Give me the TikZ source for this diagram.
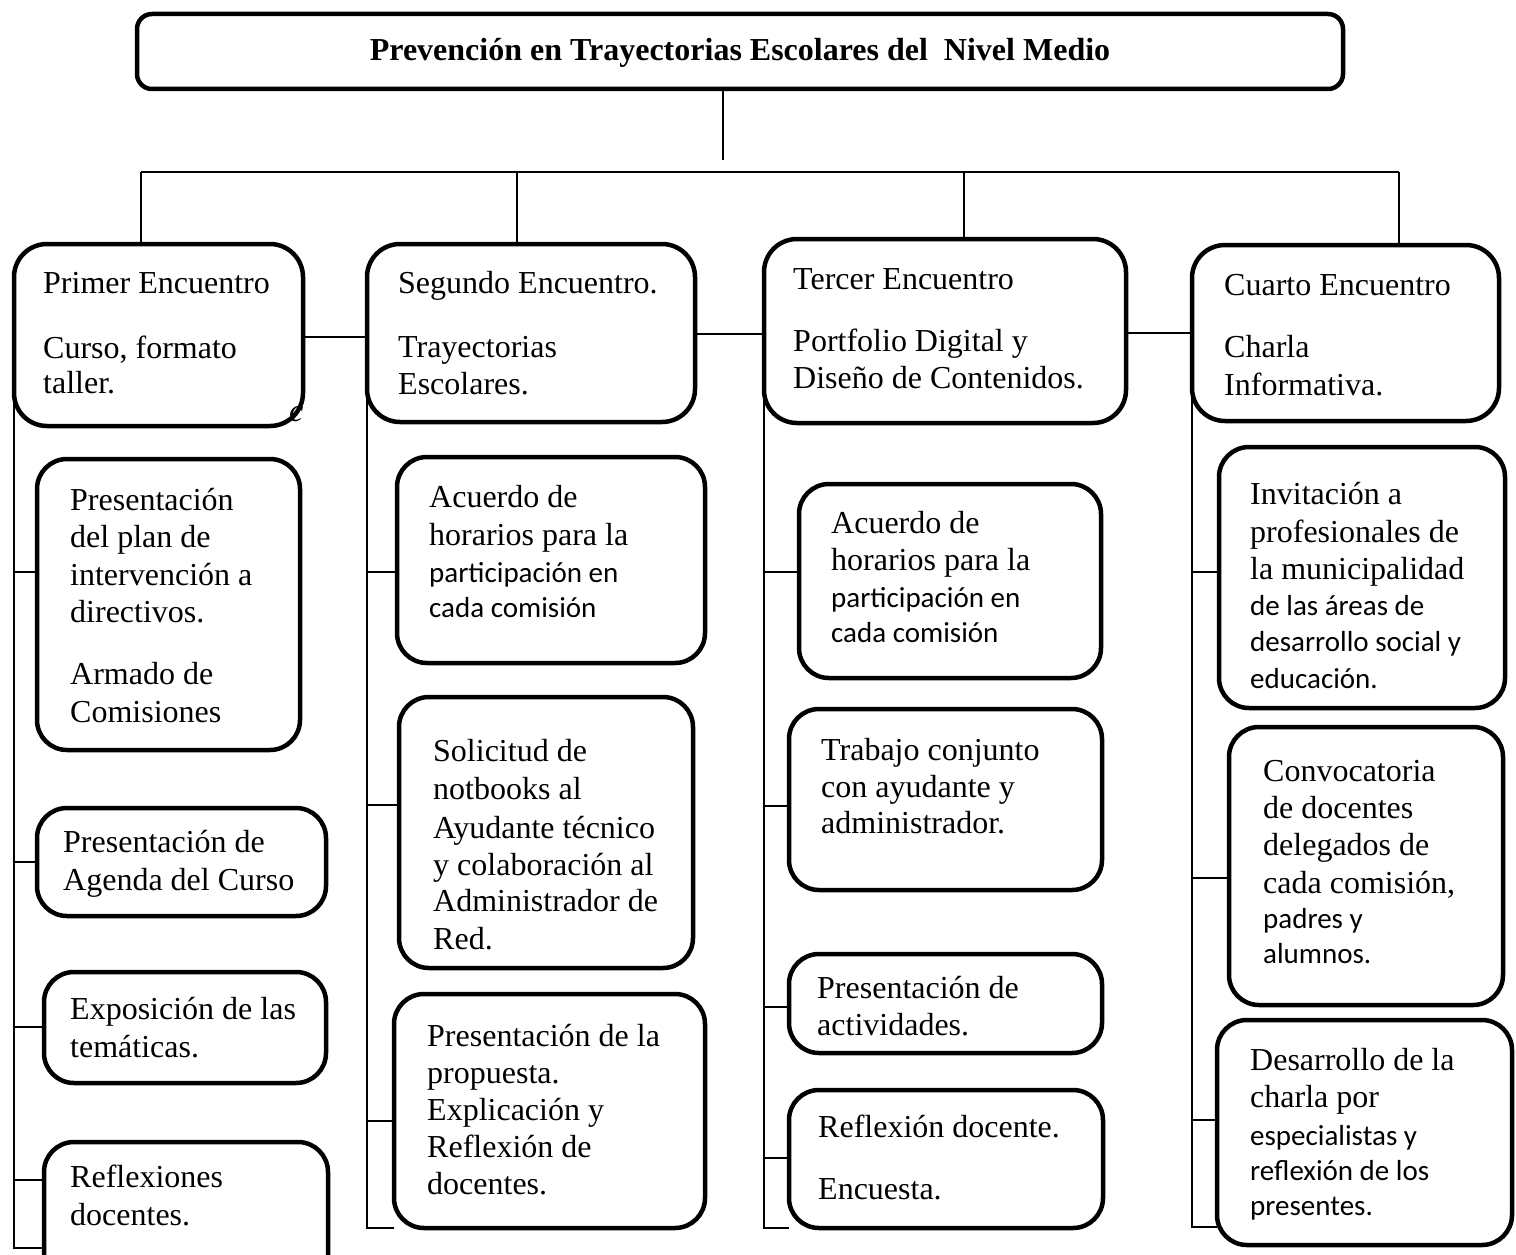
\documentclass[tikz,border=0pt]{standalone}
\usepackage{fontspec}
\setmainfont{Liberation Serif}
\newfontfamily\calfont{Carlito}
\tikzset{
  rbox/.style={draw, line width=4.5pt, rounded corners=30pt, inner sep=0pt, outer sep=0pt},
  hbox/.style={rbox, rounded corners=33pt},
  tbox/.style={rbox, rounded corners=15pt},
  conn/.style={draw, line width=1.8pt},
  tl/.style={anchor=base west, inner sep=0pt, font=\fontsize{32}{37}\selectfont},
  ts/.style={anchor=base west, inner sep=0pt, font=\calfont\fontsize{29}{35}\selectfont},
}
\newcommand\mkbox[6]{\node[#1, anchor=north west, minimum width={#5-#3}, minimum height={#6-#4}] (#2) at (#3,#4) {};}
\newcommand\mytl[4]{\node[tl] (#1) at (#2,#3) {#4};}
\newcommand\myts[4]{\node[ts] (#1) at (#2,#3) {#4};}
\begin{document}
\begin{tikzpicture}[x=1pt,y=-1pt]
\useasboundingbox (0,0) rectangle (1516,1255);
\begin{scope}
\clip (0,0) rectangle (1516,1255);
% title
\mkbox{tbox}{title}{137}{14}{1343}{89}
\node[anchor=base, inner sep=0pt, font=\bfseries\fontsize{32}{37}\selectfont] (ttl) at (740,60) {Prevención en Trayectorias Escolares del\ \ Nivel Medio};
% stray c behind first header
\mytl{strayc}{289}{421}{\itshape c}
% headers
\mkbox{hbox}{h1}{14}{244}{303}{426}
\mkbox{hbox}{h2}{367}{244}{695}{422}
\mkbox{hbox}{h3}{764}{239}{1126}{423}
\mkbox{hbox}{h4}{1192}{245}{1499}{421}
% column boxes
\mkbox{rbox}{c1a}{37}{459}{300}{750}
\mkbox{rbox}{c1b}{37}{808}{326}{916}
\mkbox{rbox}{c1c}{44}{972}{326}{1083}
\mkbox{rbox}{c1d}{44}{1142}{328}{1290}
\mkbox{rbox}{c2a}{397}{457}{705}{663}
\mkbox{rbox}{c2b}{399}{697}{693}{968}
\mkbox{rbox}{c2c}{394}{994}{705}{1228}
\mkbox{rbox}{c3a}{799}{484}{1101}{678}
\mkbox{rbox}{c3b}{789}{709}{1102}{890}
\mkbox{rbox}{c3c}{789}{954}{1102}{1053}
\mkbox{rbox}{c3d}{789}{1090}{1103}{1228}
\mkbox{rbox}{c4a}{1219}{447}{1505}{708}
\mkbox{rbox}{c4b}{1229}{727}{1503}{1005}
\mkbox{rbox}{c4c}{1217}{1020}{1512}{1245}
% tree connectors
\coordinate (topend) at (723,160);
\coordinate (barL) at (141,172);
\coordinate (barR) at (1399,172);
\draw[conn] (topend |- title.south) -- (topend);
\draw[conn] (barL) -- (barR);
\draw[conn] (barL) -- (barL |- h1.north);
\draw[conn] (517,172) -- (517,0 |- h2.north);
\draw[conn] (964,172) -- (964,0 |- h3.north);
\draw[conn] (barR) -- (barR |- h4.north);
% header links
\draw[conn] (h1.east |- 0,337) -- (h2.west |- 0,337);
\draw[conn] (h2.east |- 0,334) -- (h3.west |- 0,334);
\draw[conn] (h3.east |- 0,333) -- (h4.west |- 0,333);
% spines
\draw[conn] (h1.west) -- (h1.west |- 0,1248) -- (c1d.west |- 0,1248);
\draw[conn] (h2.west) -- (h2.west |- 0,1228) -- (c2c.south west);
\draw[conn] (h3.west) -- (h3.west |- 0,1228) -- (c3d.south west);
\draw[conn] (h4.west) -- (h4.west |- 0,1227) -- (c4c.west |- 0,1227);
% ticks col1
\draw[conn] (h1.west |- 0,572) -- (c1a.west |- 0,572);
\draw[conn] (h1.west |- 0,862) -- (c1b.west |- 0,862);
\draw[conn] (h1.west |- 0,1027) -- (c1c.west |- 0,1027);
\draw[conn] (h1.west |- 0,1180) -- (c1d.west |- 0,1180);
% ticks col2
\draw[conn] (h2.west |- 0,572) -- (c2a.west |- 0,572);
\draw[conn] (h2.west |- 0,805) -- (c2b.west |- 0,805);
\draw[conn] (h2.west |- 0,1121) -- (c2c.west |- 0,1121);
% ticks col3
\draw[conn] (h3.west |- 0,572) -- (c3a.west |- 0,572);
\draw[conn] (h3.west |- 0,806) -- (c3b.west |- 0,806);
\draw[conn] (h3.west |- 0,1007) -- (c3c.west |- 0,1007);
\draw[conn] (h3.west |- 0,1158) -- (c3d.west |- 0,1158);
% ticks col4
\draw[conn] (h4.west |- 0,572) -- (c4a.west |- 0,572);
\draw[conn] (h4.west |- 0,878) -- (c4b.west |- 0,878);
\draw[conn] (h4.west |- 0,1120) -- (c4c.west |- 0,1120);
% header texts
\mytl{h1t1}{43}{293}{Primer Encuentro}
\mytl{h1t2}{43}{358}{Curso, formato}
\mytl{h1t3}{43}{393}{taller.}
\mytl{h2t1}{398}{293}{Segundo Encuentro.}
\mytl{h2t2}{398}{357}{Trayectorias}
\mytl{h2t3}{398}{394}{Escolares.}
\mytl{h3t1}{793}{289}{Tercer Encuentro}
\mytl{h3t2}{793}{351}{Portfolio Digital y}
\mytl{h3t3}{793}{388}{Diseño de Contenidos.}
\mytl{h4t1}{1224}{295}{Cuarto Encuentro}
\mytl{h4t2}{1224}{357}{Charla}
\mytl{h4t3}{1224}{395}{Informativa.}
% column 1 texts
\mytl{a1}{70}{510}{Presentación}
\mytl{a2}{70}{547}{del plan de}
\mytl{a3}{70}{585}{intervención a}
\mytl{a4}{70}{622}{directivos.}
\mytl{a5}{70}{684}{Armado de}
\mytl{a6}{70}{722}{Comisiones}
\mytl{b1}{63}{852}{Presentación de}
\mytl{b2}{63}{890}{Agenda del Curso}
\mytl{d1}{70}{1019}{Exposición de las}
\mytl{d2}{70}{1057}{temáticas.}
\mytl{e1}{70}{1187}{Reflexiones}
\mytl{e2}{70}{1225}{docentes.}
% column 2 texts
\mytl{f1}{429}{507}{Acuerdo de}
\mytl{f2}{429}{545}{horarios para la}
\myts{f3}{429}{582}{participación en}
\myts{f4}{429}{617}{cada comisión}
\mytl{g1}{433}{761}{Solicitud de}
\mytl{g2}{433}{799}{notbooks al}
\mytl{g3}{433}{838}{Ayudante técnico}
\mytl{g4}{433}{875}{y colaboración al}
\mytl{g5}{433}{911}{Administrador de}
\mytl{g6}{433}{949}{Red.}
\mytl{k1}{427}{1046}{Presentación de la}
\mytl{k2}{427}{1083}{propuesta.}
\mytl{k3}{427}{1120}{Explicación y}
\mytl{k4}{427}{1157}{Reflexión de}
\mytl{k5}{427}{1194}{docentes.}
% column 3 texts
\mytl{m1}{831}{533}{Acuerdo de}
\mytl{m2}{831}{570}{horarios para la}
\myts{m3}{831}{607}{participación en}
\myts{m4}{831}{642}{cada comisión}
\mytl{n1}{821}{760}{Trabajo conjunto}
\mytl{n2}{821}{797}{con ayudante y}
\mytl{n3}{821}{833}{administrador.}
\mytl{p1}{817}{998}{Presentación de}
\mytl{p2}{817}{1035}{actividades.}
\mytl{q1}{818}{1137}{Reflexión docente.}
\mytl{q2}{818}{1199}{Encuesta.}
% column 4 texts
\mytl{r1}{1250}{504}{Invitación a}
\mytl{r2}{1250}{542}{profesionales de}
\mytl{r3}{1250}{579}{la municipalidad}
\myts{r4}{1250}{615}{de las áreas de}
\myts{r5}{1250}{651}{desarrollo social y}
\myts{r6}{1250}{688}{educación.}
\mytl{s1}{1263}{781}{Convocatoria}
\mytl{s2}{1263}{818}{de docentes}
\mytl{s3}{1263}{855}{delegados de}
\mytl{s4}{1263}{893}{cada comisión,}
\myts{s5}{1263}{928}{padres y}
\myts{s6}{1263}{963}{alumnos.}
\mytl{u1}{1250}{1070}{Desarrollo de la}
\mytl{u2}{1250}{1107}{charla por}
\myts{u3}{1250}{1145}{especialistas y}
\myts{u4}{1250}{1180}{reflexión de los}
\myts{u5}{1250}{1215}{presentes.}
\end{scope}
\end{tikzpicture}
\end{document}
